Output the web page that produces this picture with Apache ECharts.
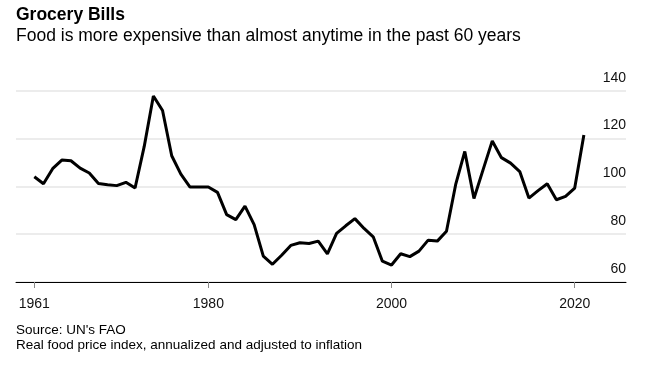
<!DOCTYPE html>
<html>
<head>
<meta charset="utf-8">
<script src="https://cdn.jsdelivr.net/npm/echarts@6/dist/echarts.min.js"></script>
<style>
html,body{margin:0;padding:0;background:#fff;}
#c{width:650px;height:367px;}
</style>
</head>
<body>
<div id="c"></div>
<script>
const startYear = 1961;
const values = [
  104.0, 101.1, 107.4, 111.0, 110.7, 107.6, 105.6, 101.2, 100.7, 100.3,
  101.7, 99.3, 116.7, 137.8, 131.7, 112.8, 105.1, 99.7, 99.7, 99.7,
  97.5, 88.2, 86.1, 91.7, 84.0, 70.8, 67.4, 71.2, 75.3, 76.4,
  76.1, 77.1, 71.8, 80.3, 83.5, 86.5, 82.4, 78.9, 68.7, 67.1,
  71.8, 70.6, 72.9, 77.5, 77.1, 81.2, 100.7, 114.6, 94.9, 107.0,
  119.0, 112.0, 109.7, 106.2, 95.1, 98.2, 101.1, 94.4, 95.8, 99.3,
  121.5
];
const xTicks = [1961, 1980, 2000, 2020];
const yTicks = [60, 80, 100, 120, 140];

const data = values.map((v, i) => [startYear + i, v]);
const font = 'Liberation Sans, Arial, sans-serif';

const chart = echarts.init(document.getElementById('c'), null, {renderer: 'canvas'});
chart.setOption({
  animation: false,
  backgroundColor: '#fff',
  title: [
    {text: 'Grocery Bills', left: 16, top: 6, padding: 0,
     textStyle: {fontFamily: font, fontSize: 17.5, fontWeight: 'bold', color: '#000'}},
    {text: 'Food is more expensive than almost anytime in the past 60 years', left: 16, top: 27, padding: 0,
     textStyle: {fontFamily: font, fontSize: 17.5, fontWeight: 'normal', color: '#000'}},
    {text: "Source: UN's FAO", left: 16, top: 323.5, padding: 0,
     textStyle: {fontFamily: font, fontSize: 13.5, fontWeight: 'normal', color: '#000'}},
    {text: 'Real food price index, annualized and adjusted to inflation', left: 16, top: 338, padding: 0,
     textStyle: {fontFamily: font, fontSize: 13.5, fontWeight: 'normal', color: '#000'}}
  ],
  grid: {left: 16, right: 24, top: 90.7, bottom: 85, containLabel: false, outerBoundsMode: 'none'},
  xAxis: {
    type: 'value', min: 1959, max: 2025.6,
    splitLine: {show: false},
    axisLine: {show: true, lineStyle: {color: '#000', width: 1}},
    axisTick: {show: true, customValues: xTicks, length: 6, lineStyle: {color: '#888', width: 1}},
    axisLabel: {customValues: xTicks, formatter: v => String(v), margin: 15.5,
      fontFamily: font, fontSize: 14, color: '#111'}
  },
  yAxis: {
    type: 'value', position: 'right', min: yTicks[0], max: yTicks[yTicks.length - 1], interval: 20,
    axisLine: {show: false}, axisTick: {show: false},
    splitLine: {show: true, lineStyle: {color: '#e6e6e6', width: 1.5}},
    axisLabel: {inside: true, margin: 0, align: 'right', verticalAlign: 'bottom',
      padding: [0, 0, 6, 0], fontFamily: font, fontSize: 14, color: '#111'}
  },
  series: [{
    type: 'line', data: data, showSymbol: false, symbol: 'none',
    lineStyle: {color: '#000', width: 3}, z: 5
  }]
});
</script>
</body>
</html>
